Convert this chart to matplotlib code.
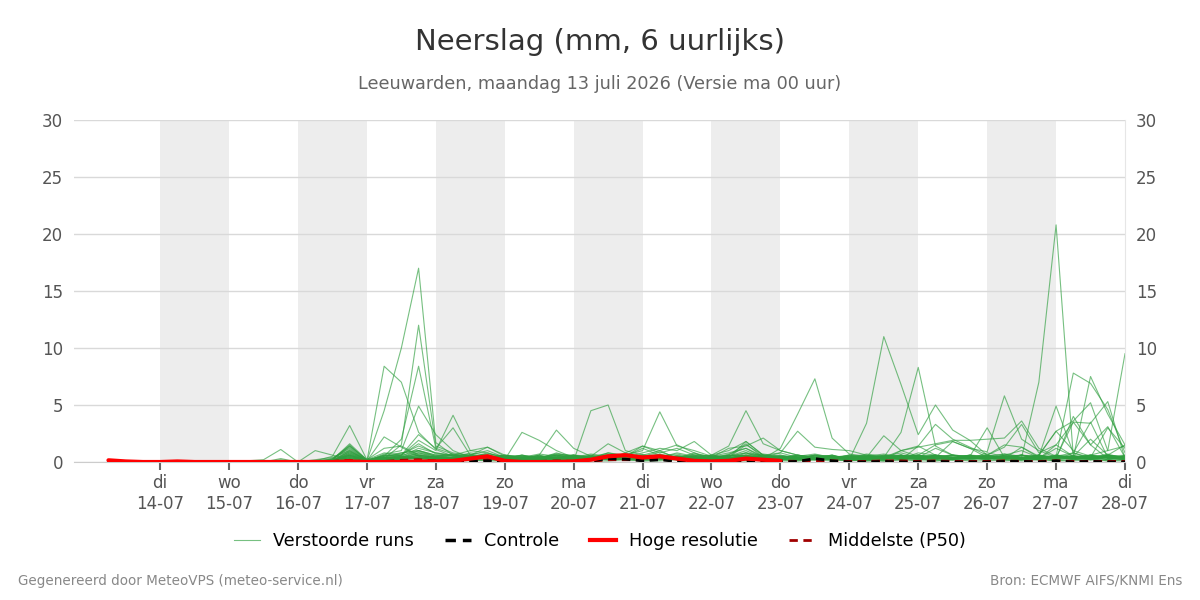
import numpy as np
import matplotlib
matplotlib.use("Agg")
import matplotlib.pyplot as plt
from matplotlib.lines import Line2D

plt.rcParams['font.family'] = ['DejaVu Sans']

# ---------------- data ----------------
# 6-hourly steps, hours after maandag 13-07 00 UTC
step_hours = list(range(6, 361, 6))  # 60 steps, 13-07 06 .. 28-07 00

day_names = ["di", "wo", "do", "vr", "za", "zo", "ma", "di", "wo", "do", "vr", "za", "zo", "ma", "di"]
day_dates = ["14-07", "15-07", "16-07", "17-07", "18-07", "19-07", "20-07", "21-07",
             "22-07", "23-07", "24-07", "25-07", "26-07", "27-07", "28-07"]

z10 = [0, 0, 0, 0, 0, 0, 0, 0, 0, 0]

run01 = z10 + [0, 0, 0.1, 0.3, 1.2, 0.1, 4.5, 10.0, 17.0, 1.7,
               0.6, 0.4, 0.8, 0.3, 0.2, 0.5, 0.3, 0.2, 0.4, 0.6,
               0.3, 0.5, 0.9, 0.4, 0.3, 0.2, 0.5, 1.0, 0.4, 0.3,
               0.5, 0.3, 0.2, 0.1, 0.3, 0.5, 0.8, 0.4, 1.2, 0.6,
               0.3, 0.5, 0.7, 0.4, 0.3, 1.2, 0.5, 0.3, 0.6, 0.4]
run02 = [0, 0, 0, 0, 0, 0, 0, 0.1, 0, 0,
         0, 0, 0, 0.2, 1.5, 0.1, 0.3, 1.5, 12.0, 1.4,
         0.8, 0.6, 1.0, 0.4, 0.3, 0.6, 0.2, 0.1, 0.3, 0.8,
         0.5, 1.2, 0.6, 0.3, 0.8, 0.2, 0.4, 1.5, 0.6, 0.2,
         0.3, 0.4, 0.6, 0.2, 0.1, 0.2, 1.0, 0.5, 0.4, 1.8,
         1.2, 0.4, 0.3, 1.3, 0.5, 0.4, 3.5, 1.5, 0.3, 0.2]
run03 = z10 + [0, 0, 0, 0.1, 0.8, 0.1, 8.4, 7.0, 2.6, 1.1,
               0.5, 0.3, 0.6, 0.2, 0.1, 0.3, 0.6, 0.4, 0.2, 0.3,
               0.8, 0.4, 0.3, 0.6, 0.4, 0.1, 0.3, 0.6, 0.3, 0.5,
               0.2, 0.6, 0.3, 0.4, 0.2, 0.1, 0.4, 0.6, 0.3, 0.2,
               0.4, 0.2, 0.6, 1.0, 0.4, 0.2, 0.8, 0.4, 3.0, 1.2]
run04 = z10 + [0, 0, 0, 0, 1.0, 0.1, 0.5, 2.0, 8.4, 1.2,
               0.7, 0.5, 0.4, 0.2, 0.4, 0.2, 0.3, 0.6, 0.2, 0.4,
               0.3, 0.6, 0.5, 0.2, 0.6, 0.3, 0.7, 1.2, 0.5, 0.3,
               0.4, 0.2, 0.4, 0.2, 0.5, 0.3, 0.2, 1.4, 0.6, 0.4,
               0.3, 0.6, 0.3, 0.2, 0.6, 2.7, 1.0, 0.5, 0.2, 0.6]
run05 = z10 + [0, 0, 0, 0.2, 0.6, 0.1, 0.7, 1.0, 4.9, 2.4,
               1.0, 0.4, 0.5, 0.3, 0.2, 0.1, 0.4, 0.3, 0.5, 0.2,
               0.4, 0.3, 0.2, 0.5, 0.3, 0.4, 0.2, 0.8, 0.3, 0.4,
               0.2, 0.3, 0.5, 0.3, 0.2, 0.4, 0.3, 0.2, 0.6, 0.3,
               0.5, 0.3, 0.2, 0.6, 0.3, 0.5, 0.2, 0.4, 0.7, 0.3]
run06 = z10 + [0.3, 0, 0.1, 0.5, 3.2, 0.2, 1.2, 1.4, 0.6, 0.4,
               0.3, 0.6, 0.4, 0.2, 0.3, 0.2, 0.5, 0.2, 0.4, 0.3,
               0.6, 0.2, 0.4, 0.3, 0.2, 0.4, 0.3, 0.5, 0.2, 0.6,
               0.3, 0.2, 0.3, 0.2, 0.4, 0.2, 0.6, 0.3, 0.2, 0.4,
               0.2, 0.4, 0.3, 0.2, 0.4, 0.3, 0.6, 0.2, 0.3, 0.5]
run07 = [0, 0, 0, 0, 0, 0, 0, 0, 0.1, 0.2,
         1.1, 0, 1.0, 0.6, 0.2, 0.1, 2.2, 1.3, 0.5, 0.3,
         0.4, 0.2, 0.6, 0.4, 0.3, 0.4, 0.2, 0.3, 0.6, 0.4,
         0.2, 0.4, 0.3, 0.2, 0.5, 0.2, 0.4, 0.3, 0.5, 0.2,
         0.4, 0.3, 0.2, 0.5, 0.3, 0.6, 0.2, 0.4, 0.3, 0.2,
         0.6, 0.3, 0.4, 0.2, 0.3, 0.2, 0.4, 0.6, 0.3, 0.2]
run08 = z10 + [0.2, 0, 0, 0.3, 1.4, 0.2, 0.5, 0.6, 1.9, 1.0,
               4.1, 1.0, 0.8, 0.4, 0.6, 0.3, 0.8, 0.4, 0.3, 0.5,
               0.4, 0.6, 1.0, 0.3, 0.4, 0.2, 0.6, 1.6, 0.4, 0.3,
               0.6, 0.4, 0.3, 0.2, 0.4, 0.3, 0.6, 0.2, 0.4, 0.6,
               0.3, 0.8, 0.5, 0.3, 0.2, 0.5, 0.3, 0.6, 0.4, 0.3]
run09 = z10 + [0, 0, 0.2, 0.4, 1.0, 0.1, 0.3, 0.6, 2.4, 1.2,
               3.0, 0.6, 1.3, 0.5, 0.2, 0.6, 0.3, 0.2, 0.6, 0.3,
               0.2, 0.3, 0.6, 0.4, 0.3, 0.5, 0.2, 0.4, 0.3, 0.5,
               0.2, 0.5, 0.4, 0.3, 0.6, 0.4, 0.2, 0.5, 0.3, 0.2,
               0.4, 0.2, 0.6, 0.4, 0.2, 0.6, 0.4, 0.2, 0.5, 0.3]
run10 = z10 + [0, 0, 0, 0.2, 1.6, 0.2, 0.4, 0.8, 1.0, 0.6,
               0.4, 0.8, 0.6, 0.2, 2.6, 1.9, 1.0, 0.4, 0.3, 0.6,
               0.5, 1.4, 0.8, 1.2, 0.6, 0.3, 0.4, 1.8, 0.6, 0.4,
               0.3, 0.6, 0.5, 0.4, 0.2, 0.3, 0.5, 0.4, 0.3, 0.6,
               0.4, 0.3, 0.5, 0.6, 0.3, 0.4, 0.3, 0.5, 0.2, 0.4]
run11 = z10 + [0, 0, 0, 0.1, 0.6, 0.1, 0.3, 0.4, 0.8, 0.5,
               0.6, 0.4, 0.3, 0.6, 0.4, 0.6, 2.8, 1.2, 0.5, 1.6,
               0.8, 1.4, 1.0, 1.5, 0.8, 0.4, 1.2, 1.4, 2.1, 1.0,
               0.6, 0.4, 0.3, 0.4, 0.6, 0.5, 0.3, 0.8, 0.6, 0.4,
               0.6, 0.5, 0.3, 0.6, 0.4, 0.3, 0.5, 0.4, 0.6, 0.3]
run12 = z10 + [0, 0, 0, 0, 0.5, 0.1, 0.2, 0.3, 0.6, 0.4,
               0.3, 0.4, 0.5, 0.3, 0.2, 0.4, 0.2, 0.1, 4.5, 5.0,
               1.0, 0.6, 0.4, 0.8, 0.5, 0.3, 0.6, 0.4, 0.3, 0.5,
               0.4, 0.3, 0.5, 0.4, 0.2, 0.5, 0.4, 0.3, 0.2, 0.5,
               0.3, 0.4, 0.2, 0.3, 0.5, 0.2, 0.3, 0.5, 0.4, 0.2]
run13 = z10 + [0, 0, 0, 0.1, 0.4, 0.1, 0.6, 0.5, 1.2, 0.8,
               0.6, 1.0, 1.3, 0.6, 0.4, 0.2, 0.6, 0.5, 0.4, 0.8,
               0.6, 1.0, 4.4, 1.4, 1.0, 0.5, 0.8, 1.2, 0.4, 0.8,
               0.4, 0.6, 0.3, 0.5, 0.4, 0.2, 0.6, 0.3, 0.4, 0.3,
               0.5, 0.3, 0.4, 0.2, 0.6, 0.4, 0.2, 0.3, 0.5, 0.6]
run14 = z10 + [0, 0, 0, 0.2, 0.9, 0.2, 0.4, 0.3, 0.6, 0.4,
               0.2, 0.5, 0.4, 0.3, 0.6, 0.3, 0.4, 0.6, 0.3, 0.5,
               0.4, 0.8, 1.2, 1.0, 1.8, 0.6, 1.4, 4.5, 1.6, 1.0,
               0.6, 0.3, 0.5, 0.4, 0.3, 0.6, 0.5, 0.3, 0.6, 0.4,
               0.3, 0.5, 0.4, 0.6, 0.3, 0.5, 0.4, 0.3, 0.4, 0.5]
run15 = z10 + [0, 0, 0, 0.1, 0.3, 0.1, 0.2, 0.4, 0.5, 0.3,
               0.4, 0.2, 0.3, 0.4, 0.2, 0.3, 0.5, 0.2, 0.4, 0.3,
               0.2, 0.4, 0.3, 0.5, 0.4, 0.2, 0.5, 0.6, 0.3, 1.2,
               4.2, 7.3, 2.1, 0.7, 0.5, 0.4, 0.6, 0.3, 0.5, 0.3,
               0.4, 0.6, 0.3, 0.4, 0.2, 0.6, 0.3, 0.4, 0.2, 0.5]
run16 = z10 + [0, 0, 0, 0, 0.6, 0.1, 0.3, 0.2, 0.4, 0.2,
               0.3, 0.4, 0.6, 0.3, 0.4, 0.2, 0.3, 0.5, 0.4, 0.6,
               0.3, 0.5, 0.6, 0.4, 0.3, 0.6, 1.0, 1.8, 0.6, 0.8,
               2.7, 1.3, 1.1, 1.0, 0.6, 0.3, 0.4, 0.6, 0.3, 0.4,
               0.6, 0.3, 0.5, 0.3, 0.6, 0.4, 0.5, 0.3, 0.6, 0.4]
run17 = z10 + [0, 0, 0, 0.1, 0.4, 0.1, 0.3, 0.5, 0.3, 0.2,
               0.4, 0.3, 0.2, 0.5, 0.3, 0.4, 0.2, 0.3, 0.5, 0.2,
               0.4, 0.3, 0.5, 0.2, 0.4, 0.3, 0.2, 0.5, 0.3, 0.4,
               0.6, 0.4, 0.3, 0.2, 3.4, 11.0, 6.8, 2.4, 5.0, 2.8,
               1.9, 0.6, 0.4, 0.3, 0.5, 0.4, 0.3, 0.6, 0.4, 0.5]
run18 = z10 + [0, 0, 0, 0, 0.2, 0.1, 0.2, 0.4, 0.3, 0.5,
               0.3, 0.2, 0.4, 0.3, 0.2, 0.5, 0.3, 0.4, 0.2, 0.3,
               0.5, 0.2, 0.4, 0.3, 0.2, 0.5, 0.3, 0.4, 0.2, 0.3,
               0.2, 0.3, 0.4, 0.3, 0.5, 0.4, 2.6, 8.3, 1.4, 0.6,
               0.5, 0.3, 0.4, 0.6, 0.3, 0.5, 0.4, 0.2, 0.5, 0.3]
run19 = z10 + [0, 0, 0, 0.1, 0.7, 0.1, 0.4, 0.3, 0.8, 0.4,
               0.3, 0.6, 0.4, 0.2, 0.5, 0.3, 0.6, 0.4, 0.3, 0.4,
               0.3, 0.6, 0.4, 0.5, 0.3, 0.4, 0.6, 0.4, 0.5, 0.6,
               0.4, 0.3, 0.6, 0.2, 0.4, 2.3, 1.0, 1.4, 3.3, 2.0,
               1.3, 0.6, 1.5, 1.3, 0.4, 0.6, 0.5, 0.4, 0.6, 0.3]
run20 = z10 + [0, 0, 0, 0, 0.3, 0.1, 0.2, 0.3, 0.4, 0.3,
               0.2, 0.4, 0.3, 0.5, 0.2, 0.4, 0.3, 0.2, 0.4, 0.5,
               0.3, 0.2, 0.4, 0.3, 0.5, 0.2, 0.4, 0.3, 0.6, 0.4,
               0.3, 0.5, 0.4, 0.3, 0.4, 0.2, 0.5, 0.6, 1.5, 1.8,
               1.2, 0.9, 5.8, 2.0, 1.0, 0.4, 0.3, 0.6, 0.4, 0.5]
run21 = z10 + [0, 0, 0, 0.1, 0.5, 0.1, 0.3, 0.2, 0.5, 0.3,
               0.4, 0.3, 0.5, 0.2, 0.3, 0.4, 0.2, 0.5, 0.3, 0.2,
               0.4, 0.3, 0.2, 0.4, 0.3, 0.5, 0.3, 0.2, 0.4, 0.3,
               0.3, 0.4, 0.2, 0.5, 0.3, 0.4, 1.0, 1.3, 1.6, 1.9,
               1.9, 2.0, 2.1, 3.6, 1.2, 0.5, 0.8, 0.3, 0.5, 0.4]
run22 = z10 + [0, 0, 0, 0, 0.4, 0.1, 0.2, 0.5, 0.3, 0.2,
               0.3, 0.2, 0.4, 0.3, 0.2, 0.3, 0.4, 0.2, 0.3, 0.4,
               0.2, 0.3, 0.5, 0.2, 0.3, 0.4, 0.2, 0.3, 0.5, 0.2,
               0.2, 0.3, 0.4, 0.2, 0.3, 0.5, 0.3, 0.4, 0.6, 0.2,
               0.3, 0.5, 0.3, 0.4, 7.0, 20.8, 0.5, 0.3, 0.6, 0.4]
run23 = z10 + [0, 0, 0, 0.1, 0.6, 0.1, 0.3, 0.4, 0.6, 0.3,
               0.2, 0.4, 0.3, 0.2, 0.4, 0.3, 0.2, 0.4, 0.3, 0.5,
               0.3, 0.2, 0.4, 0.5, 0.3, 0.2, 0.4, 0.3, 0.2, 0.4,
               0.4, 0.3, 0.5, 0.3, 0.2, 0.4, 0.3, 0.5, 0.4, 0.3,
               0.5, 3.0, 0.4, 0.6, 0.5, 4.9, 0.8, 3.5, 0.4, 0.3]
run24 = z10 + [0, 0, 0, 0, 0.3, 0.1, 0.2, 0.3, 0.4, 0.2,
               0.3, 0.4, 0.2, 0.3, 0.4, 0.2, 0.3, 0.4, 0.2, 0.3,
               0.2, 0.3, 0.4, 0.2, 0.3, 0.4, 0.2, 0.3, 0.4, 0.2,
               0.3, 0.2, 0.4, 0.3, 0.2, 0.3, 0.4, 0.2, 0.3, 0.4,
               0.3, 0.4, 0.5, 0.3, 0.2, 0.5, 7.8, 6.9, 4.6, 0.8]
run25 = z10 + [0, 0, 0, 0.1, 0.5, 0.1, 0.4, 0.6, 0.9, 0.5,
               0.4, 0.6, 0.4, 0.3, 0.5, 0.4, 0.3, 0.6, 0.4, 0.3,
               0.5, 0.4, 0.3, 0.5, 0.4, 0.3, 0.5, 0.8, 0.4, 0.3,
               0.4, 0.3, 0.5, 0.4, 0.3, 0.5, 0.4, 0.3, 0.5, 0.4,
               0.4, 0.2, 0.6, 0.3, 0.4, 0.5, 0.4, 7.5, 4.2, 1.5]
run26 = z10 + [0, 0, 0, 0.2, 1.3, 0.1, 0.6, 0.4, 1.0, 0.6,
               0.5, 0.3, 0.4, 0.6, 0.3, 0.4, 0.6, 0.3, 0.4, 0.6,
               0.3, 0.4, 0.6, 0.3, 0.5, 0.6, 0.3, 0.4, 0.6, 0.3,
               0.5, 0.4, 0.3, 0.6, 0.4, 0.3, 0.5, 0.6, 0.4, 0.3,
               0.3, 0.5, 0.4, 0.6, 0.3, 1.5, 3.5, 3.4, 5.3, 0.3]
run27 = z10 + [0, 0, 0, 0, 0.8, 0.1, 0.3, 0.5, 0.7, 0.4,
               0.6, 0.3, 0.5, 0.4, 0.3, 0.5, 0.4, 0.6, 0.3, 0.5,
               0.4, 0.6, 0.3, 0.5, 0.4, 0.3, 0.6, 0.5, 0.3, 0.4,
               0.3, 0.4, 0.6, 0.3, 0.5, 0.4, 0.3, 0.5, 0.6, 0.3,
               0.4, 0.3, 0.5, 0.4, 0.6, 0.3, 0.5, 0.6, 1.0, 9.5]
run28 = z10 + [0, 0, 0, 0.1, 1.1, 0.1, 0.5, 0.7, 1.4, 0.8,
               0.5, 0.7, 0.4, 0.3, 0.6, 0.4, 0.7, 0.5, 0.4, 0.7,
               0.5, 0.3, 0.6, 0.4, 0.7, 0.5, 0.4, 0.6, 0.5, 0.4,
               0.6, 0.4, 0.3, 0.6, 0.4, 0.5, 0.6, 0.4, 0.5, 0.3,
               0.6, 0.4, 0.5, 0.3, 0.6, 2.7, 3.6, 5.2, 1.0, 1.4]
run29 = z10 + [0, 0, 0, 0.2, 1.4, 0.2, 0.8, 0.6, 1.6, 0.7,
               0.6, 0.4, 0.7, 0.5, 0.4, 0.7, 0.5, 0.4, 0.7, 0.5,
               0.4, 0.6, 0.5, 0.7, 0.4, 0.6, 0.5, 0.8, 0.6, 0.4,
               0.5, 0.7, 0.4, 0.6, 0.5, 0.7, 0.4, 0.6, 0.5, 0.6,
               0.5, 0.4, 0.7, 0.5, 0.6, 0.3, 4.0, 1.5, 3.1, 0.4]
run30 = z10 + [0, 0, 0, 0.1, 0.9, 0.1, 0.6, 0.8, 1.0, 0.5,
               0.7, 0.5, 0.4, 0.6, 0.5, 0.4, 0.7, 0.6, 0.5, 0.4,
               0.6, 0.5, 0.7, 0.4, 0.6, 0.5, 0.4, 0.6, 0.7, 0.5,
               0.4, 0.6, 0.5, 0.4, 0.7, 0.5, 0.6, 0.4, 0.5, 0.6,
               0.5, 0.6, 1.3, 3.3, 0.8, 1.5, 0.5, 2.0, 0.6, 1.5]
run31 = z10 + [0, 0, 0, 0.1, 0.7, 0.1, 0.4, 0.2, 0.3, 0.2,
               0.2, 0.1, 0.2, 0.1, 0.2, 0.1, 0.2, 0.1, 0.2, 0.3,
               0.2, 0.1, 0.2, 0.3, 0.1, 0.2, 0.3, 0.2, 0.1, 0.2,
               0.1, 0.2, 0.3, 0.1, 0.2, 0.1, 0.2, 0.3, 0.1, 0.2,
               0.2, 0.3, 0.1, 0.2, 0.3, 0.1, 0.2, 0.3, 0.1, 0.2]
run32 = z10 + [0, 0, 0, 0, 0.2, 0, 0.1, 0.2, 0.1, 0.2,
               0.1, 0.2, 0.1, 0.1, 0.2, 0.1, 0.1, 0.2, 0.1, 0.1,
               0.2, 0.1, 0.1, 0.2, 0.1, 0.2, 0.1, 0.1, 0.2, 0.1,
               0.1, 0.2, 0.1, 0.2, 0.1, 0.1, 0.2, 0.1, 0.1, 0.2,
               0.1, 0.1, 0.2, 0.1, 0.2, 0.1, 0.1, 0.2, 0.1, 0.1]

runs = [run01, run02, run03, run04, run05, run06, run07, run08, run09, run10,
        run11, run12, run13, run14, run15, run16, run17, run18, run19, run20,
        run21, run22, run23, run24, run25, run26, run27, run28, run29, run30,
        run31, run32]

control = [0.1, 0, 0, 0, 0, 0, 0, 0, 0, 0,
           0, 0, 0, 0, 0.05, 0, 0, 0, 0.05, 0,
           0, 0.05, 0.1, 0, 0, 0.05, 0, 0, 0.1, 0.3,
           0.25, 0.1, 0.2, 0.05, 0, 0, 0.05, 0.1, 0.05, 0,
           0.05, 0.3, 0.1, 0, 0, 0.05, 0, 0, 0.05, 0,
           0, 0, 0.05, 0.05, 0, 0.1, 0, 0.05, 0, 0]
hres_hours = list(range(6, 241, 6))  # high resolution run up to +240h
hres = [0.15, 0.05, 0, 0, 0.05, 0, 0, 0, 0, 0,
        0, 0, 0, 0, 0.05, 0, 0, 0, 0.05, 0.05,
        0.1, 0.3, 0.5, 0.1, 0, 0, 0, 0.05, 0.2, 0.5,
        0.6, 0.4, 0.5, 0.3, 0.1, 0.05, 0.1, 0.3, 0.2, 0.1]
median = [0.1, 0, 0, 0, 0, 0, 0, 0, 0, 0,
          0, 0, 0, 0.05, 0.15, 0, 0.05, 0.15, 0.2, 0.1,
          0.1, 0.1, 0.2, 0.05, 0.05, 0.05, 0.1, 0.05, 0.05, 0.2,
          0.2, 0.2, 0.25, 0.1, 0.1, 0.05, 0.1, 0.2, 0.1, 0.1,
          0.05, 0.1, 0.1, 0.05, 0.05, 0.1, 0.1, 0.05, 0.1, 0.05,
          0.05, 0.05, 0.1, 0.05, 0.05, 0.1, 0.05, 0.05, 0.05, 0.05]

# ---------------- plot ----------------
fig = plt.figure(figsize=(12, 6), dpi=100)
ax = fig.add_axes([74 / 1200, 1 - 462 / 600, (1125 - 74) / 1200, (462 - 120) / 600])

t = np.array(step_hours) / 24.0
t_hres = np.array(hres_hours) / 24.0

for d in range(1, 15, 2):
    ax.axvspan(d, d + 1, color="#ededed", lw=0, zorder=0)

for r in runs:
    ax.plot(t, r, color="#2e9e3e", lw=0.8, alpha=0.65, zorder=2)

ax.plot(t, median, color="#a00000", lw=2.0, ls=(0, (3, 2)), zorder=4)
ax.plot(t, control, color="black", lw=2.0, ls=(0, (3, 2)), zorder=4)
ax.plot(t_hres, hres, color="#ff0000", lw=3.0, zorder=5, solid_capstyle="round")

ax.set_xlim(-0.25, 15)
ax.set_ylim(0, 30)
ax.set_yticks([0, 5, 10, 15, 20, 25, 30])
ax.grid(axis="y", color="#d9d9d9", lw=1)
ax.set_axisbelow(True)

ticks = list(range(1, 16))
ax.set_xticks(ticks)
ax.set_xticklabels([f"{n}\n{d}" for n, d in zip(day_names, day_dates)])
ax.tick_params(axis="x", colors="#555555", labelsize=12, length=6, width=1.5,
               direction="out", pad=3)
ax.tick_params(axis="x", color="#666666")
ax.tick_params(axis="y", colors="#555555", labelsize=12, length=0, pad=8,
               labelleft=True, labelright=True, left=False, right=False)

for s in ["left", "top"]:
    ax.spines[s].set_visible(False)
ax.spines["right"].set_color("#e6e6e6")
ax.spines["bottom"].set_color("#cccccc")

fig.text(0.5, 1 - 42 / 600, "Neerslag (mm, 6 uurlijks)", ha="center", va="center",
         fontsize=21, color="#333333")
fig.text(0.5, 1 - 84 / 600, "Leeuwarden, maandag 13 juli 2026 (Versie ma 00 uur)",
         ha="center", va="center", fontsize=12.7, color="#666666")

handles = [
    Line2D([], [], color="#2e9e3e", lw=0.8, alpha=0.65),
    Line2D([], [], color="black", lw=2.5, ls=(0, (3, 2))),
    Line2D([], [], color="#ff0000", lw=3.0),
    Line2D([], [], color="#a00000", lw=2.0, ls=(0, (3, 2))),
]
labels = ["Verstoorde runs", "Controle", "Hoge resolutie", "Middelste (P50)"]
fig.legend(handles, labels, loc="center", bbox_to_anchor=(0.5, 1 - 541 / 600), ncol=4,
           frameon=False, fontsize=12.7, handlelength=1.48, columnspacing=1.75,
           handletextpad=0.74)

fig.text(18 / 1200, 1 - 581 / 600, "Gegenereerd door MeteoVPS (meteo-service.nl)",
         ha="left", va="center", fontsize=9.75, color="#888888")
fig.text(1182 / 1200, 1 - 581 / 600, "Bron: ECMWF AIFS/KNMI Ens",
         ha="right", va="center", fontsize=9.75, color="#888888")

fig.savefig("out.png", dpi=100)
